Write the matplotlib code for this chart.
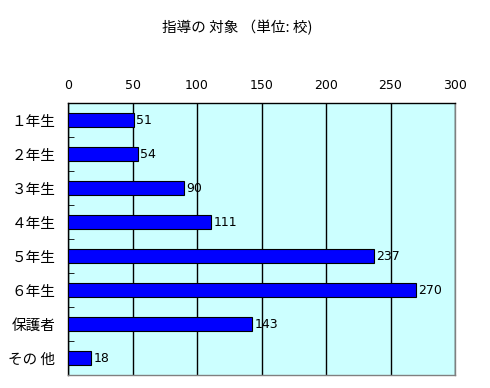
import numpy as np
import matplotlib.pyplot as plt
from matplotlib.ticker import FixedLocator

plt.rcParams['font.family'] = ['Noto Sans CJK JP', 'DejaVu Sans']
num_font = ['DejaVu Sans', 'Noto Sans CJK JP']

# data
categories = ['１年生', '２年生', '３年生', '４年生', '５年生', '６年生', '保護者', 'その 他']
counts = [51, 54, 90, 111, 237, 270, 143, 18]
title = '指導の 対象 （単位: 校)'

fig = plt.figure(figsize=(4.9, 3.88), dpi=100)
ax = fig.add_axes([0.1388, 0.0335, 0.7898, 0.701])

y = np.arange(len(categories))
ax.barh(y, counts, height=0.44, color='#0000FF', edgecolor='black', linewidth=0.8, zorder=3)

for yi, v in zip(y, counts):
    ax.annotate(str(v), (v, yi), xytext=(1.5, 0), textcoords='offset points',
                va='center', ha='left', fontsize=9, family=num_font, zorder=4)

ax.set_xlim(0, 300)
ax.set_ylim(len(categories) - 0.5, -0.5)
ax.set_facecolor('#CCFFFF')

ax.set_xticks([0, 50, 100, 150, 200, 250, 300])
ax.xaxis.tick_top()
ax.tick_params(axis='x', length=0, pad=8, labelsize=9)
for lab in ax.get_xticklabels():
    lab.set_family(num_font)
ax.grid(axis='x', color='black', linewidth=1, zorder=1)

ax.set_yticks(y)
ax.set_yticklabels(categories, fontsize=10.5)
ax.tick_params(axis='y', which='major', length=0, pad=9)
ax.yaxis.set_minor_locator(FixedLocator(np.arange(0.5, len(categories) - 1, 1)))
ax.tick_params(axis='y', which='minor', direction='in', length=4, color='black')

ax.spines['left'].set_color('black')
ax.spines['top'].set_color('black')
ax.spines['right'].set_color('gray')
ax.spines['bottom'].set_color('gray')
for s in ax.spines.values():
    s.set_linewidth(1)

fig.text(0.484, 0.93, title, ha='center', va='center', fontsize=10.5)

fig.savefig('out.png', dpi=100)
